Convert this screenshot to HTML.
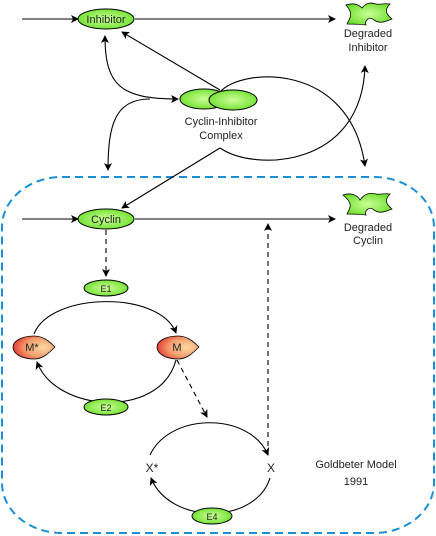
<!DOCTYPE html>
<html><head><meta charset="utf-8"><style>
body{margin:0;background:#fff}
svg{display:block;font-family:"Liberation Sans",sans-serif}
text{font-size:11px;fill:#222;text-anchor:middle}
</style></head><body>
<svg width="436" height="536" viewBox="0 0 436 536">
<defs>
<marker id="ah" markerWidth="8" markerHeight="8" refX="7" refY="4" orient="auto-start-reverse" markerUnits="userSpaceOnUse"><path d="M0,0 L8,4 L0,8 L2,4 z" fill="#000"/></marker>
<radialGradient id="gr" cx="0.7" cy="0.5" r="0.8"><stop offset="0" stop-color="#fbd8a0"/><stop offset="0.5" stop-color="#f3a070"/><stop offset="1" stop-color="#e02020"/></radialGradient>
<radialGradient id="gg" cx="0.5" cy="0.5" r="0.6"><stop offset="0" stop-color="#ccff99"/><stop offset="1" stop-color="#66dd22"/></radialGradient>
</defs>
<rect x="2" y="177" width="432" height="356" rx="60" ry="50" fill="none" stroke="#1b8fd6" stroke-width="2" stroke-dasharray="8,5"/>
<g fill="none" stroke="#000" stroke-width="1.1">
<line x1="22" y1="19" x2="78" y2="19" marker-end="url(#ah)"/>
<line x1="135" y1="19" x2="335" y2="19" marker-end="url(#ah)"/>
<line x1="220" y1="90" x2="122" y2="32" marker-end="url(#ah)"/>
<path d="M105,36 C105,85 120,99 178,99" marker-start="url(#ah)" marker-end="url(#ah)"/>
<path d="M150,99 C115,99 108,125 108,170" marker-end="url(#ah)"/>
<path d="M220,92 C240,68 350,60 365,166" marker-end="url(#ah)"/>
<path d="M220,148 C255,172 362,168 365,66" marker-end="url(#ah)"/>
<line x1="220" y1="148" x2="122" y2="208" marker-end="url(#ah)"/>
<line x1="22" y1="219" x2="78" y2="219" marker-end="url(#ah)"/>
<line x1="135" y1="219" x2="335" y2="219" marker-end="url(#ah)"/>
<line x1="106" y1="230" x2="106" y2="276" stroke-dasharray="5,4" marker-end="url(#ah)"/>
<line x1="268" y1="455" x2="268" y2="224" stroke-dasharray="5,4" marker-end="url(#ah)"/>
<path d="M34,334 C50,292 160,290 176,333" marker-end="url(#ah)"/>
<path d="M176,360 C160,420 55,412 37,362" marker-end="url(#ah)"/>
<line x1="177" y1="360" x2="207" y2="417" stroke-dasharray="5,4" marker-end="url(#ah)"/>
<path d="M150,455 C170,412 250,412 268,455" marker-end="url(#ah)"/>
<path d="M270,478 C255,525 170,525 151,478" marker-end="url(#ah)"/>
</g>
<g><ellipse cx="106" cy="19" rx="28" ry="10" fill="url(#gg)" stroke="#000"/><text x="106" y="23">Inhibitor</text></g>
<g><path d="M346,5 C356,2 360,6 362,8 C366,3 370,2 376,4 C380,5 384,3 390,4 C384,10 386,14 392,19 C384,22 380,24 374,20 C370,16 364,20 366,25 C358,24 352,24 347,24 C350,18 354,14 346,5 z" fill="url(#gg)" stroke="#000" stroke-width="0.8"/><text x="368" y="37">Degraded</text><text x="368" y="51">Inhibitor</text></g>
<g><ellipse cx="204" cy="99" rx="24" ry="10" fill="url(#gg)" stroke="#000"/><ellipse cx="233" cy="100" rx="24" ry="10" fill="url(#gg)" stroke="#000"/><text x="221" y="125">Cyclin-Inhibitor</text><text x="221" y="139">Complex</text></g>
<g><ellipse cx="106" cy="219" rx="28" ry="10" fill="url(#gg)" stroke="#000"/><text x="106" y="223">Cyclin</text></g>
<g><path d="M343,195 C352,192 358,196 360,200 C364,194 370,192 376,194 C380,195 384,193 390,194 C384,200 386,204 392,209 C384,212 380,214 374,210 C370,206 364,210 366,215 C358,214 352,214 347,214 C350,208 354,204 343,195 z" fill="url(#gg)" stroke="#000" stroke-width="0.8"/><text x="368" y="231">Degraded</text><text x="368" y="244">Cyclin</text></g>
<g><ellipse cx="106" cy="288" rx="22" ry="8" fill="url(#gg)" stroke="#000"/><text x="106" y="292" style="font-size:9px">E1</text></g>
<g><ellipse cx="106" cy="407" rx="22" ry="8" fill="url(#gg)" stroke="#000"/><text x="106" y="411" style="font-size:9px">E2</text></g>
<g><ellipse cx="212" cy="516" rx="20" ry="8" fill="url(#gg)" stroke="#000"/><text x="212" y="520" style="font-size:9px">E4</text></g>
<g><path d="M34,336 C22,336 13,341 13,347 C13,354 22,359 34,359 C43,359 49,353 55,347 C49,341 43,336 34,336 z" fill="url(#gr)" stroke="#000" stroke-width="0.8"/><text x="32" y="351">M*</text></g>
<g><path d="M178,336 C166,336 157,341 157,347 C157,354 166,359 178,359 C187,359 193,353 199,347 C193,341 187,336 178,336 z" fill="url(#gr)" stroke="#000" stroke-width="0.8"/><text x="177" y="351">M</text></g>
<text x="152" y="472" style="font-size:12px">X*</text>
<text x="271" y="472" style="font-size:12px">X</text>
<text x="356" y="468">Goldbeter Model</text>
<text x="356" y="485">1991</text>
</svg>
</body></html>
